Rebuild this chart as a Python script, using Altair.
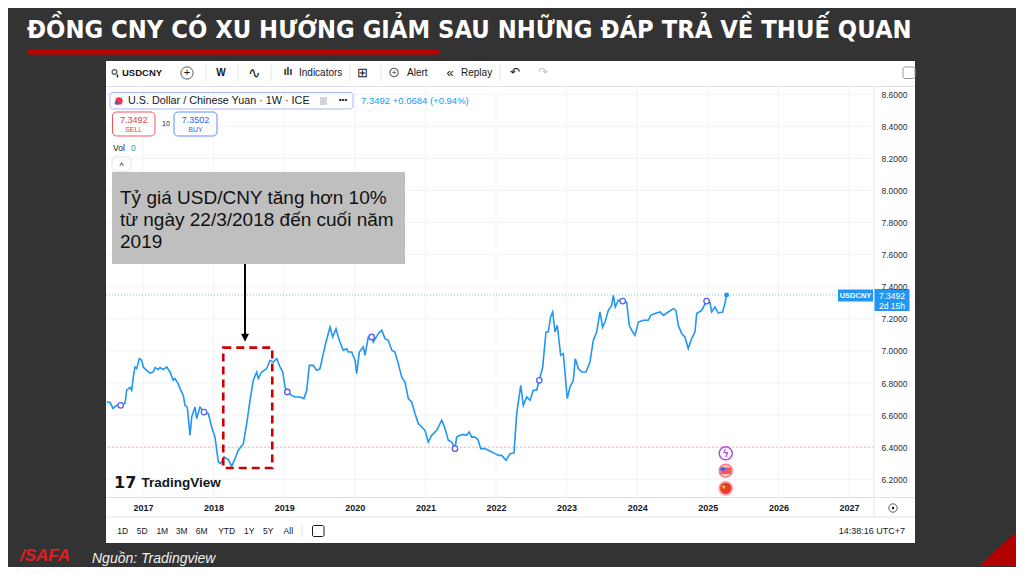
import altair as alt
import pandas as pd

# ---------------- data ----------------
DATES = [
    2016.486, 2016.533, 2016.575, 2016.627, 2016.684, 2016.745, 2016.769, 2016.816, 2016.840, 2016.863,
    2016.887, 2016.911, 2016.948, 2016.982, 2017.004, 2017.052, 2017.099, 2017.146, 2017.170, 2017.217,
    2017.241, 2017.288, 2017.336, 2017.382, 2017.429, 2017.453, 2017.496, 2017.524, 2017.571, 2017.595,
    2017.627, 2017.666, 2017.690, 2017.737, 2017.761, 2017.807, 2017.864, 2017.925, 2017.973, 2018.020,
    2018.067, 2018.101, 2018.147, 2018.208, 2018.256, 2018.303, 2018.350, 2018.421, 2018.469, 2018.516,
    2018.562, 2018.610, 2018.633, 2018.681, 2018.752, 2018.799, 2018.846, 2018.894, 2018.941, 2018.979,
    2019.011, 2019.044, 2019.106, 2019.153, 2019.224, 2019.280, 2019.319, 2019.356, 2019.412, 2019.460,
    2019.507, 2019.554, 2019.592, 2019.649, 2019.687, 2019.734, 2019.780, 2019.837, 2019.885, 2019.908,
    2019.956, 2020.003, 2020.027, 2020.064, 2020.120, 2020.144, 2020.191, 2020.239, 2020.262, 2020.333,
    2020.381, 2020.428, 2020.475, 2020.523, 2020.569, 2020.616, 2020.664, 2020.711, 2020.758, 2020.806,
    2020.853, 2020.900, 2020.948, 2020.994, 2021.041, 2021.089, 2021.160, 2021.231, 2021.278, 2021.324,
    2021.373, 2021.419, 2021.443, 2021.490, 2021.536, 2021.584, 2021.621, 2021.655, 2021.703, 2021.749,
    2021.783, 2021.844, 2021.891, 2021.939, 2021.986, 2022.033, 2022.081, 2022.142, 2022.198, 2022.255,
    2022.293, 2022.350, 2022.387, 2022.435, 2022.482, 2022.528, 2022.576, 2022.613, 2022.661, 2022.708,
    2022.740, 2022.774, 2022.803, 2022.836, 2022.868, 2022.916, 2022.953, 2023.010, 2023.048, 2023.095,
    2023.123, 2023.166, 2023.214, 2023.275, 2023.331, 2023.378, 2023.426, 2023.473, 2023.511, 2023.544,
    2023.591, 2023.639, 2023.662, 2023.690, 2023.732, 2023.795, 2023.851, 2023.888, 2023.922, 2023.969,
    2024.016, 2024.086, 2024.157, 2024.191, 2024.252, 2024.323, 2024.370, 2024.440, 2024.511, 2024.549,
    2024.582, 2024.630, 2024.676, 2024.723, 2024.771, 2024.818, 2024.842, 2024.912, 2024.983, 2025.030,
    2025.054, 2025.100, 2025.147, 2025.210, 2025.242, 2025.266,
]
PRICES = [
    6.682, 6.680, 6.642, 6.661, 6.661, 6.674, 6.755, 6.773, 6.755, 6.838,
    6.900, 6.890, 6.952, 6.942, 6.900, 6.879, 6.862, 6.869, 6.896, 6.884,
    6.896, 6.884, 6.900, 6.869, 6.817, 6.828, 6.798, 6.767, 6.723, 6.661,
    6.650, 6.474, 6.588, 6.650, 6.578, 6.650, 6.619, 6.609, 6.526, 6.463,
    6.308, 6.298, 6.339, 6.323, 6.281, 6.329, 6.381, 6.422, 6.547, 6.692,
    6.817, 6.869, 6.828, 6.869, 6.890, 6.942, 6.931, 6.952, 6.900, 6.869,
    6.775, 6.744, 6.723, 6.713, 6.713, 6.703, 6.755, 6.910, 6.910, 6.879,
    6.890, 6.983, 7.056, 7.149, 7.087, 7.139, 7.066, 7.004, 7.014, 6.993,
    6.993, 6.942, 6.859, 6.993, 7.025, 6.973, 7.087, 7.087, 7.056, 7.108,
    7.129, 7.077, 7.066, 7.004, 6.993, 6.921, 6.838, 6.806, 6.703, 6.682,
    6.609, 6.547, 6.526, 6.505, 6.432, 6.474, 6.505, 6.568, 6.516, 6.443,
    6.432, 6.391, 6.463, 6.474, 6.480, 6.474, 6.495, 6.463, 6.463, 6.443,
    6.391, 6.391, 6.381, 6.370, 6.360, 6.349, 6.349, 6.318, 6.360, 6.364,
    6.609, 6.786, 6.661, 6.713, 6.692, 6.755, 6.755, 6.817, 6.900, 7.118,
    7.118, 7.212, 7.243, 7.118, 7.160, 6.973, 6.983, 6.703, 6.775, 6.817,
    6.952, 6.890, 6.869, 6.869, 6.931, 7.066, 7.118, 7.243, 7.149, 7.180,
    7.253, 7.285, 7.347, 7.274, 7.316, 7.311, 7.305, 7.160, 7.129, 7.097,
    7.180, 7.191, 7.191, 7.222, 7.233, 7.243, 7.222, 7.243, 7.264, 7.253,
    7.160, 7.108, 7.087, 7.015, 7.077, 7.118, 7.233, 7.253, 7.311, 7.305,
    7.243, 7.274, 7.237, 7.243, 7.295, 7.3492,
]
MARK_DATES = [2016.684, 2017.864, 2019.044, 2020.239, 2021.419, 2022.613, 2023.795, 2024.983]
MARK_PRICES = [6.661, 6.619, 6.744, 7.087, 6.391, 6.817, 7.311, 7.311]
YEARS = list(range(2017, 2028))
PRICE_TICKS = [6.2, 6.4, 6.6, 6.8, 7.0, 7.2, 7.4, 7.6, 7.8, 8.0, 8.2, 8.4, 8.6]
LAST_PRICE = [7.3492]
PINK_LEVEL = [6.4]
BOX_DATES = [2018.137, 2018.831]
BOX_PRICES = [6.270, 7.021]

TITLE = "ĐỒNG CNY CÓ XU HƯỚNG GIẢM SAU NHỮNG ĐÁP TRẢ VỀ THUẾ QUAN"
NOTE_LINES = ["Tỷ giá USD/CNY tăng hơn 10%", "từ ngày 22/3/2018 đến cuối năm", "2019"]
SOURCE = "Nguồn: Tradingview"
LEGEND = "U.S. Dollar / Chinese Yuan · 1W · ICE"
LEGEND_VAL = "7.3492  +0.0684 (+0.94%)"
RANGES = ["1D", "5D", "1M", "3M", "6M", "YTD", "1Y", "5Y", "All"]

# ---------------- layout ----------------
W, H = 768, 410
OX, OY = 106, 87          # image position of the plot origin
FONT = "Liberation Sans"
INK = "#131722"
BLUE = "#2196f3"

one = pd.DataFrame({"k": [0]})


def rect(x1, x2, y1, y2, **kw):
    return alt.Chart(one).mark_rect(**kw).encode(
        x=alt.value(x1 - OX), x2=alt.value(x2 - OX),
        y=alt.value(y1 - OY), y2=alt.value(y2 - OY))


def text(x, y, s, **kw):
    kw.setdefault("font", FONT)
    kw.setdefault("color", INK)
    kw.setdefault("baseline", "middle")
    return alt.Chart(one).mark_text(**kw).encode(
        x=alt.value(x - OX), y=alt.value(y - OY), text=alt.value(s))


def hline(x1, x2, y, color="#e0e3eb", w=1):
    return alt.Chart(one).mark_rule(color=color, strokeWidth=w).encode(
        x=alt.value(x1 - OX), x2=alt.value(x2 - OX), y=alt.value(y - OY))


def vline(x, y1, y2, color="#e0e3eb", w=1):
    return alt.Chart(one).mark_rule(color=color, strokeWidth=w).encode(
        x=alt.value(x - OX), y=alt.value(y1 - OY), y2=alt.value(y2 - OY))


def sym(x, y, shape, size, **kw):
    return alt.Chart(one).mark_point(shape=shape, size=size, **kw).encode(
        x=alt.value(x - OX), y=alt.value(y - OY))


xs = alt.Scale(domain=[2016.476, 2027.354], nice=False, zero=False)
ys = alt.Scale(domain=[6.0895, 8.6455], nice=False, zero=False)
xaxis = alt.Axis(values=YEARS, format="d", grid=False, domain=False, ticks=False, tickSize=0,
                 labelPadding=6, labelFontSize=9, labelFontWeight="bold", labelColor=INK,
                 labelFont=FONT, title=None, zindex=1, labelFlush=False, labelOverlap=False)
yaxis = alt.Axis(orient="right", values=PRICE_TICKS, format=".4f", grid=False, domain=False,
                 ticks=False, tickSize=0, labelPadding=7, labelFontSize=8.5, labelColor="#2a2e39",
                 labelFont=FONT, labelAlign="left", title=None, zindex=1, labelOverlap=False,
                 labelFlush=False)
X = alt.X("date:Q", scale=xs, axis=xaxis)
Y = alt.Y("price:Q", scale=ys, axis=yaxis)

series = pd.DataFrame({"date": DATES, "price": PRICES})
marks = pd.DataFrame({"date": MARK_DATES, "price": MARK_PRICES})

layers = []
# slide background (defines the canvas extent) and white TradingView panel
layers.append(rect(8, 1016, 8, 566, fill="#333333"))
layers.append(rect(106, 915, 61, 543, fill="white"))

# grid
layers.append(alt.Chart(pd.DataFrame({"price": PRICE_TICKS})).mark_rule(color="#f0f3fa", strokeWidth=1).encode(y=Y))
layers.append(alt.Chart(pd.DataFrame({"date": YEARS})).mark_rule(color="#f0f3fa", strokeWidth=1).encode(x=X))
layers.append(alt.Chart(pd.DataFrame({"price": PINK_LEVEL})).mark_rule(color="#f5b5bd", strokeWidth=1, strokeDash=[2, 2]).encode(y=Y))
layers.append(alt.Chart(pd.DataFrame({"price": LAST_PRICE})).mark_rule(color=BLUE, strokeWidth=1, strokeDash=[1, 2], opacity=0.6)
              .encode(y=Y, x=alt.value(0), x2=alt.value(838 - OX)))

# separators of the TradingView panel
layers += [hline(106, 915, 86.5), hline(106, 915, 497.5), hline(106, 915, 517),
           vline(874, 87, 517), vline(302, 524, 538)]

# price line and markers
layers.append(alt.Chart(series).mark_line(color=BLUE, strokeWidth=1.6).encode(x=X, y=Y))
layers.append(alt.Chart(marks).mark_circle(size=30, fill="white", stroke="#5a5ff0", strokeWidth=1.3, opacity=1)
              .encode(x=X, y=Y))
layers.append(alt.Chart(series.tail(1)).mark_circle(size=24, color=BLUE, opacity=1).encode(x=X, y=Y))

# red dashed highlight box
box = pd.DataFrame({"date": [BOX_DATES[0]], "date2": [BOX_DATES[1]],
                    "price": [BOX_PRICES[0]], "price2": [BOX_PRICES[1]]})
layers.append(alt.Chart(box).mark_rect(fillOpacity=0, stroke="#cc0000", strokeWidth=2.6, strokeDash=[8, 5])
              .encode(x=X, x2="date2", y=Y, y2="price2"))

# annotation
layers.append(rect(112, 405, 172, 264, fill="#bfbfbf"))
layers.append(text(120, 197.5, NOTE_LINES, align="left", fontSize=19, lineHeight=22.3, color="#111111"))
layers.append(vline(245, 264, 336, color="black", w=2))
layers.append(sym(245, 337.7, "M-1,-1L1,-1L0,1Z", 64, filled=True, color="black", opacity=1))

# top toolbar
layers += [
    sym(114.5, 72, "circle", 22, filled=False, color=INK, strokeWidth=1.4),
    vline(117.5, 74.5, 77.5, color=INK, w=1.4),
    text(122, 73, "USDCNY", align="left", fontSize=9.5, fontWeight="bold"),
    sym(187, 73, "circle", 150, filled=False, color=INK, strokeWidth=1),
    text(187, 73, "+", fontSize=11, align="center"),
    text(221, 73, "W", align="center", fontSize=10, fontWeight="bold"),
    text(254, 73, "∿", align="center", fontSize=15),
    text(288, 72, "ılı", align="center", fontSize=10, fontWeight="bold"),
    text(299, 73, "Indicators", align="left", fontSize=10),
    text(362, 73, "⊞", align="center", fontSize=13),
    sym(394, 72.5, "circle", 70, filled=False, color=INK, strokeWidth=1.1),
    text(394, 72.5, "+", align="center", fontSize=8),
    text(407, 73, "Alert", align="left", fontSize=10),
    text(450, 73, "«", align="center", fontSize=13),
    text(461, 73, "Replay", align="left", fontSize=10),
    text(515, 72, "↶", align="center", fontSize=12),
    text(543, 72, "↷", align="center", fontSize=12, color="#c3c5cc"),
    rect(903, 915, 67, 78.5, fill="white", stroke="#9598a1", strokeWidth=1, cornerRadius=2),
]
for sx in [206, 238, 271, 350, 381, 500]:
    layers.append(vline(sx, 65, 81))

# legend row
layers += [
    rect(110, 353, 92.5, 109, fillOpacity=0, stroke="#a9b9f5", strokeWidth=1, cornerRadius=3),
    sym(119, 101, "circle", 55, filled=True, color="#f23645", opacity=1),
    sym(116.5, 103, "circle", 14, filled=True, color="#2962ff", opacity=1),
    text(128, 101, LEGEND, align="left", fontSize=10.8),
    rect(320, 327, 97, 105, fill="#d1d4dc"),
    text(343, 100, "•••", align="center", fontSize=8, fontWeight="bold"),
    text(361, 100.5, LEGEND_VAL, align="left", fontSize=9.5, color=BLUE),
    rect(112.5, 155, 112, 136, fill="white", stroke="#f7525f", strokeWidth=1, cornerRadius=4),
    text(133.7, 119.5, "7.3492", align="center", fontSize=9, color="#f23645"),
    text(133.7, 129.5, "SELL", align="center", fontSize=7, color="#f23645"),
    text(166, 124, "10", align="center", fontSize=7),
    rect(174, 217, 112, 136, fill="white", stroke="#5b8cf8", strokeWidth=1, cornerRadius=4),
    text(195.5, 119.5, "7.3502", align="center", fontSize=9, color="#2962ff"),
    text(195.5, 129.5, "BUY", align="center", fontSize=7, color="#2962ff"),
    text(113, 147.5, "Vol", align="left", fontSize=8.5),
    text(131, 147.5, "0", align="left", fontSize=8.5, color="#22ab94"),
    rect(112, 131, 157, 171, fill="white", stroke="#e0e3eb", strokeWidth=1, cornerRadius=3),
    text(121.5, 166, "^", align="center", fontSize=9),
]

# right price tag
layers += [
    rect(838, 873, 289.5, 301.5, fill=BLUE),
    text(855.5, 295.5, "USDCNY", align="center", fontSize=7.5, fontWeight="bold", color="white"),
    rect(874.5, 909.5, 289, 311, fill=BLUE),
    text(892, 295.5, "7.3492", align="center", fontSize=8.5, color="white"),
    text(892, 305.5, "2d 15h", align="center", fontSize=8.5, color="white"),
]

# event icons
layers += [
    sym(725.7, 453.3, "circle", 170, filled=True, fill="white", stroke="#b24ad9", strokeWidth=1.4, opacity=1),
    text(725.7, 453.5, "ϟ", align="center", fontSize=10, color="#b24ad9", fontWeight="bold"),
    sym(725.7, 470.7, "circle", 170, filled=True, fill="#f9c6ca", stroke="#f77c80", strokeWidth=1.4, opacity=1),
    rect(720.5, 731, 467.5, 474, fill="#f23645", opacity=0.8),
    rect(720.5, 725, 467.5, 470.5, fill="#2962ff"),
    sym(725.7, 488.3, "circle", 170, filled=True, fill="#e53935", stroke="#f8a0a6", strokeWidth=1.8, opacity=1),
    text(723, 486.5, "★", align="center", fontSize=6, color="#ffd600"),
]

# TradingView logo
layers += [
    text(114, 483, "17", align="left", fontSize=16, fontWeight=900, font="DejaVu Sans"),
    text(141.5, 483, "TradingView", align="left", fontSize=13.5, fontWeight="bold"),
]

# bottom toolbar
RANGE_X = [122.7, 142.3, 162.3, 181.7, 201.7, 226.7, 249.3, 268.3, 288.3]
for rx, lab in zip(RANGE_X, RANGES):
    layers.append(text(rx, 531, lab, align="center", fontSize=8.5))
layers += [
    rect(312.5, 324, 525.5, 536.5, fillOpacity=0, stroke=INK, strokeWidth=1, cornerRadius=1.5),
    text(905, 530.5, "14:38:16 UTC+7", align="right", fontSize=9),
    sym(893, 508, "circle", 70, filled=False, color=INK, strokeWidth=1),
    sym(893, 508, "circle", 6, filled=True, color=INK, opacity=1),
]

# slide title, underline, source, logo, corner
layers += [
    text(27, 30, TITLE, align="left", fontSize=25.3, fontWeight="bold", color="white",
         font="DejaVu Sans Condensed, Liberation Sans Narrow, Roboto Condensed, Open Sans"),
    rect(27, 440, 50, 54.5, fill="#c00000", cornerRadius=2.2),
    text(92, 559, SOURCE, align="left", fontSize=14, fontStyle="italic", color="#f0f0f0"),
    text(20, 556, "/SAFA", align="left", fontSize=17, fontStyle="italic", fontWeight="bold", color="#e31b23"),
    sym(997.5, 549, "M-1,0.919L1,0.919L1,-0.919Z", 1369, filled=True, color="#b30000", opacity=1),
]

chart = alt.layer(*layers).properties(width=W, height=H, padding=0, background="#333333") \
    .configure_view(strokeWidth=0)

chart.save("out.html", embed_options={"renderer": "svg", "actions": False})
